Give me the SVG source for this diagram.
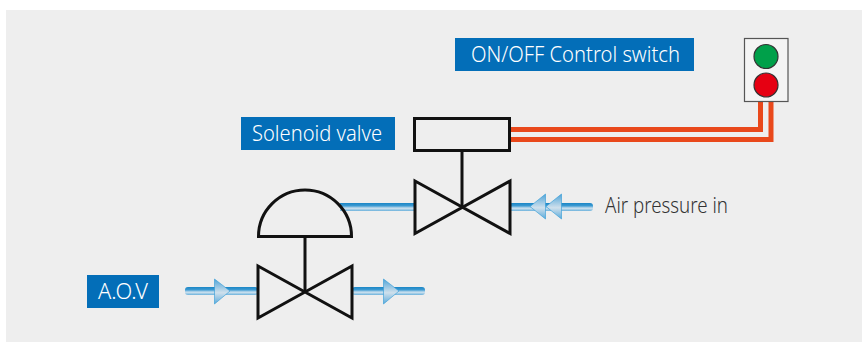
<svg xmlns="http://www.w3.org/2000/svg" width="862" height="342" viewBox="0 0 862 342">
<style>
.lab{fill:#036eb8}
.t{font-family:"Noto Sans","Liberation Sans",sans-serif;font-size:22px;font-weight:300;fill:#fff}
.sym{fill:none;stroke:#111;stroke-width:3}
.pipe{fill:url(#pg)}
.ar{fill:url(#ag);stroke:#2f9bd6;stroke-width:.6}
.or{fill:none;stroke:#e9481b;stroke-width:5}
</style>
<defs>
<linearGradient id="pg" x1="0" y1="0" x2="0" y2="1"><stop offset="0" stop-color="#1a86c6"/><stop offset=".35" stop-color="#3c9ad2"/><stop offset=".65" stop-color="#cfe2ef"/><stop offset="1" stop-color="#6cb2dc"/></linearGradient>
<linearGradient id="ag" x1="0" y1="0" x2="0" y2="1"><stop offset="0" stop-color="#4fa4d8"/><stop offset=".55" stop-color="#cfe0ec"/><stop offset="1" stop-color="#5aaadb"/></linearGradient>
</defs>
<rect x="6" y="10" width="856" height="332" fill="#eeeeee"/>
<g id="connectors">
<path class="or" d="M510 129.500H760.500V101"/>
<path class="or" d="M510 139.500H771V101"/>
<rect class="pipe" x="340" y="203" width="75" height="8"/>
<rect class="pipe" x="509" y="203" width="84" height="8" rx="3"/>
<rect class="pipe" x="185" y="287" width="73" height="8" rx="3"/>
<rect class="pipe" x="352" y="287" width="73" height="8" rx="3"/>
<path class="ar" d="M530 206.500L545.500 194V219Z"/>
<path class="ar" d="M546 206.500L561.500 194V219Z"/>
<path class="ar" d="M230 291L214.500 279V304Z"/>
<path class="ar" d="M399 291L383.500 279V304Z"/>
</g>
<g id="air-label"><text x="605" y="213" font-family="Noto Sans,Liberation Sans,sans-serif" font-size="22" font-weight="300" fill="#333" textLength="123" lengthAdjust="spacingAndGlyphs">Air pressure in</text></g>
<g id="switch-label"><rect class="lab" x="455" y="38" width="239" height="33"/><text class="t" x="471" y="62" textLength="209" lengthAdjust="spacingAndGlyphs">ON/OFF Control switch</text></g>
<g id="solenoid-label"><rect class="lab" x="241" y="117" width="154" height="33"/><text class="t" x="252" y="141" textLength="130" lengthAdjust="spacingAndGlyphs">Solenoid valve</text></g>
<g id="aov-label"><rect class="lab" x="87" y="275" width="72" height="33"/><text class="t" x="98" y="299" textLength="50" lengthAdjust="spacingAndGlyphs">A.O.V</text></g>
<g id="switch">
<rect x="744.500" y="38.500" width="43.500" height="63" fill="#f4f4f4" stroke="#555" stroke-width="1.200"/>
<circle cx="766" cy="56.500" r="12" fill="#00a04a" stroke="#333" stroke-width="1.200"/>
<circle cx="766" cy="85" r="12" fill="#e60012" stroke="#333" stroke-width="1.200"/>
</g>
<g id="solenoid"><rect class="sym" x="414.500" y="118.500" width="95" height="32"/></g>
<g id="upper-valve"><path class="sym" d="M462 152V207"/><path class="sym" d="M415 181L510 233.500V181L415 233.500Z"/></g>
<g id="aov-valve"><path class="sym" d="M258.500 236.500A46.500 46.500 0 0 1 351.500 236.500Z"/><path class="sym" d="M305 237V291"/><path class="sym" d="M258 266L352 318V266L258 318Z"/></g>
</svg>
